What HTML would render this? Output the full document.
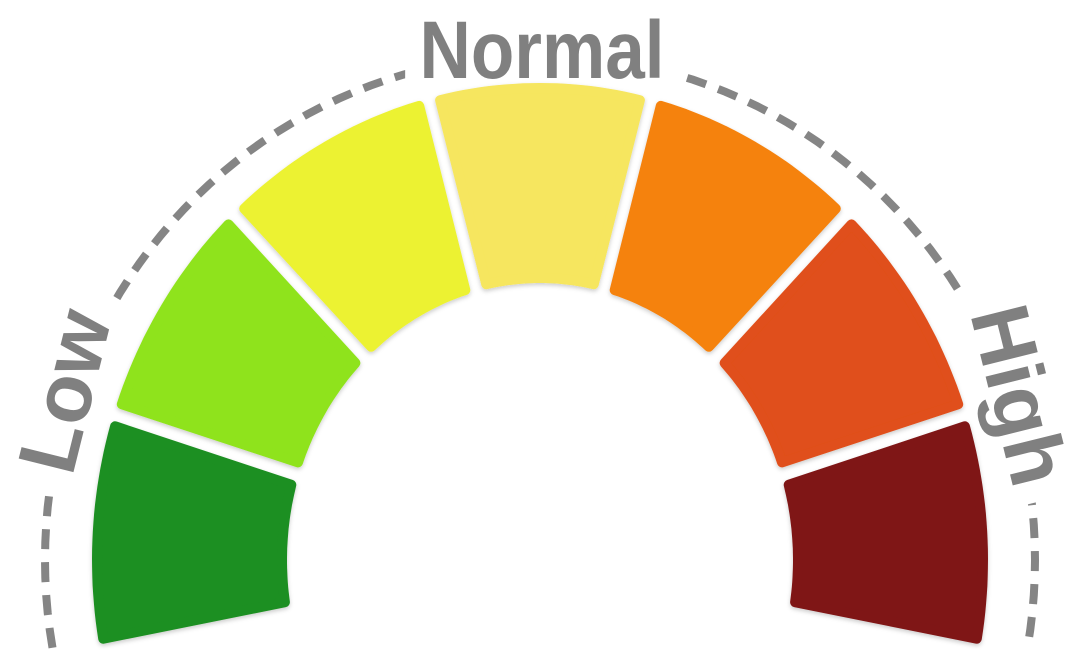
<!DOCTYPE html>
<html><head><meta charset="utf-8"><style>
html,body{margin:0;padding:0;background:#fff;}
svg{display:block;}
</style></head><body>
<svg id="chart" width="1075" height="665" viewBox="0 0 1075 665" xmlns="http://www.w3.org/2000/svg">
<defs>
<filter id="sh" x="-10%" y="-10%" width="120%" height="120%"><feDropShadow dx="0" dy="2" stdDeviation="2" flood-color="#000" flood-opacity="0.2"/></filter>
</defs>
<path id="dash" fill="none" stroke="#858585" stroke-width="8" stroke-dasharray="20 13"/>
<g font-family="Liberation Sans, sans-serif" font-weight="bold" font-size="82" fill="#fff" stroke="#fff" stroke-width="44" stroke-linejoin="round">
<text x="542" y="78" text-anchor="middle" textLength="245" lengthAdjust="spacingAndGlyphs">Normal</text>
<text transform="translate(92,398) rotate(-76)" text-anchor="middle">Low</text>
<text transform="translate(992,402) rotate(76)" text-anchor="middle">High</text>
</g>
<g id="segs"></g>
<g font-family="Liberation Sans, sans-serif" font-weight="bold" font-size="82" fill="#808080">
<text x="542" y="78" text-anchor="middle" textLength="245" lengthAdjust="spacingAndGlyphs">Normal</text>
<text transform="translate(92,398) rotate(-76)" text-anchor="middle">Low</text>
<text transform="translate(992,402) rotate(76)" text-anchor="middle">High</text>
</g>
</svg>
<script>
const categories=["very-low","low","low-normal","normal","high-normal","high","very-high"];
const values=[1,1,1,1,1,1,1];
const colors=["#1f8f22","#8fe31c","#ecf232","#f6e65e","#f5820f","#e0501a","#7f1616"];
const cx=540,cy=560,orx=443,ory=472,irx=258,iry=282;
const startDeg=191,endDeg=-11;
function pt(rx,ry,deg){const a=deg*Math.PI/180;return [cx+rx*Math.cos(a),cy-ry*Math.sin(a)];}
const total=values.reduce((a,b)=>a+b,0);
const g=document.getElementById('segs');
let acc=0;
values.forEach((v,i)=>{
  const a0=startDeg+(endDeg-startDeg)*acc/total, a1=startDeg+(endDeg-startDeg)*(acc+v)/total; acc+=v;
  const og=1.4, ig=2.4;
  const n=24;
  let d="";
  for(let k=0;k<=n;k++){const p=pt(orx,ory,(a0-og)+((a1+og)-(a0-og))*k/n);d+=(k?"L":"M")+p[0].toFixed(1)+","+p[1].toFixed(1);}
  for(let k=n;k>=0;k--){const p=pt(irx,iry,(a0-ig)+((a1+ig)-(a0-ig))*k/n);d+="L"+p[0].toFixed(1)+","+p[1].toFixed(1);}
  d+="Z";
  const p=document.createElementNS("http://www.w3.org/2000/svg","path");
  p.setAttribute('d',d);
  p.setAttribute('fill',colors[i]);
  p.setAttribute('stroke',colors[i]);
  p.setAttribute('stroke-width','10');
  p.setAttribute('stroke-linejoin','round');
  p.setAttribute('filter','url(#sh)');
  
  
  g.appendChild(p);
});
let dd="";
for(let k=0;k<=100;k++){const p=pt(495,505,190-k*2);dd+=(k?"L":"M")+p[0].toFixed(1)+","+p[1].toFixed(1);}
document.getElementById('dash').setAttribute('d',dd);
</script>
</body></html>
